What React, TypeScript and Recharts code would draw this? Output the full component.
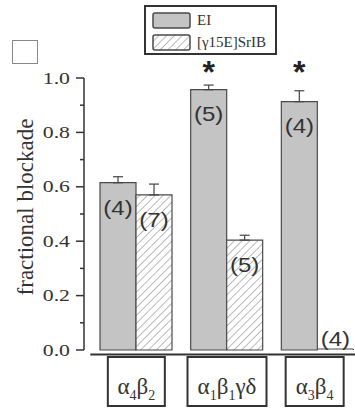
import React from "react";
import { BarChart, Bar, XAxis, YAxis, ErrorBar, LabelList, Legend } from "recharts";

const categories = ["α4β2", "α1β1γδ", "α3β4"];
const eiValues = [0.615, 0.957, 0.913];
const eiErrors = [0.022, 0.017, 0.04];
const sribValues = [0.57, 0.404, 0];
const sribErrors = [0.04, 0.018, 0];
const eiCounts = [4, 5, 4];
const sribCounts = [7, 5, 4];
const significant = [false, true, true];
const seriesNames = ["EI", "[γ15E]SrIB"];
const yTicks = [0, 0.1, 0.2, 0.3, 0.4, 0.5, 0.6, 0.7, 0.8, 0.9, 1.0];
const starLevel = 1.015;

const boxWidths = [57, 79, 58];
const boxShift = [0, 0, -3];

const data = categories.map((c, i) => ({
  name: c,
  ei: eiValues[i],
  eiErr: [0, eiErrors[i]],
  srib: sribValues[i],
  sribErr: [0, sribErrors[i]],
  eiN: `(${eiCounts[i]})`,
  sribN: `(${sribCounts[i]})`,
  sig: significant[i] ? "*" : "",
}));

const SERIF = "'Liberation Serif', 'DejaVu Serif', serif";
const SANS = "'Liberation Sans', Arial, sans-serif";
const GRAY = "#c4c4c4";
const EDGE = "#4a4a4a";

const YTick = (props: any) => {
  const { x, y, payload } = props;
  const v = payload.value as number;
  const major = Math.round(v * 10) % 2 === 0;
  return (
    <g>
      <line x1={x - (major ? 8 : 4)} x2={x} y1={y} y2={y} stroke="#333" strokeWidth={1.5} />
      {major && (
        <text
          transform={`translate(${x - 14}, ${y}) scale(1.28, 1)`}
          textAnchor="end"
          dominantBaseline="central"
          fontFamily={SERIF}
          fontSize={17}
          fill="#333"
        >
          {v.toFixed(1)}
        </text>
      )}
    </g>
  );
};

const XTick = (props: any) => {
  const { x, y, payload, index } = props;
  const label: string = payload.value;
  const w = boxWidths[index] ?? 60;
  const cx = x + (boxShift[index] ?? 0);
  const parts: React.ReactNode[] = [];
  let sub = false;
  label.split("").forEach((ch, k) => {
    const isDigit = /[0-9]/.test(ch);
    let dy = 0;
    if (isDigit && !sub) dy = 6;
    if (!isDigit && sub) dy = -6;
    sub = isDigit;
    parts.push(
      <tspan key={k} dy={dy} fontSize={isDigit ? 14 : 23}>
        {ch}
      </tspan>
    );
  });
  return (
    <g>
      {index === 0 && (
        <line x1={x - 46} x2={x + 300} y1={y + 4.5} y2={y + 4.5} stroke="#333" strokeWidth={2} />
      )}
      <rect x={cx - w / 2} y={y + 7} width={w} height={49} fill="#fff" stroke="#333" strokeWidth={2} />
      <text x={cx} y={y + 44} textAnchor="middle" fontFamily={SERIF} fill="#333">
        {parts}
      </text>
    </g>
  );
};

const countText = (cx: number, cy: number, value: string) => (
  <text
    transform={`translate(${cx}, ${cy}) scale(1.2, 1)`}
    textAnchor="middle"
    dominantBaseline="central"
    fontFamily={SANS}
    fontSize={20}
    fill="#333"
  >
    {value}
  </text>
);

const CountLabel = (props: any) => {
  const { x, y, width, height, value } = props;
  if (!(height > 0)) return null;
  const cy = height > 30 ? y + 25 : y - 10;
  return countText(x + width / 2, cy, value);
};

// draws the outline and count for a zero-height SrIB bar, positioned next to the EI bar of the same group
const ZeroSribLabel = (props: any) => {
  const { x, y, width, height, value, index } = props;
  if (sribValues[index] !== 0) return null;
  const bottom = y + height;
  const sx = x + width;
  return (
    <g>
      <line x1={sx} x2={sx + width} y1={bottom - 1} y2={bottom - 1} stroke={EDGE} strokeWidth={1.2} />
      <line x1={sx + width} x2={sx + width} y1={bottom - 1} y2={bottom} stroke={EDGE} strokeWidth={1.2} />
      {countText(sx + width / 2, bottom - 11, value)}
    </g>
  );
};

const StarLabel = (props: any) => {
  const { x, y, width, height, value, index } = props;
  if (!value) return null;
  const v = eiValues[index];
  const bottom = y + height;
  const sy = bottom - (starLevel * height) / v;
  return (
    <text x={x + width / 2} y={sy + 9} textAnchor="middle" fontFamily={SANS} fontWeight="bold" fontSize={32} fill="#222">
      {value}
    </text>
  );
};

const LegendContent = (props: any) => {
  const payload = props.payload || [];
  return (
    <div
      style={{
        position: "relative",
        width: 133,
        height: 50,
        boxSizing: "border-box",
        border: "2px solid #333",
        background: "#fff",
      }}
    >
      {payload.map((entry: any, i: number) => (
        <div key={i} style={{ position: "absolute", left: 6, top: 5 + i * 22, height: 17, display: "flex", alignItems: "center" }}>
          <svg width={40} height={17} style={{ display: "block" }}>
            <defs>
              <pattern id={`hatchLegend${i}`} width={5.5} height={5.5} patternUnits="userSpaceOnUse" patternTransform="rotate(45)">
                <rect width={5.5} height={5.5} fill="#fff" />
                <line x1={0} y1={0} x2={0} y2={5.5} stroke="#777" strokeWidth={1} />
              </pattern>
            </defs>
            <rect
              x={1}
              y={1}
              width={37}
              height={15}
              rx={2}
              fill={i === 0 ? GRAY : `url(#hatchLegend${i})`}
              stroke={EDGE}
              strokeWidth={1.5}
            />
          </svg>
          <span style={{ marginLeft: 5, fontFamily: SERIF, fontSize: 15, color: "#333", lineHeight: "17px" }}>
            {entry.value}
          </span>
        </div>
      ))}
    </div>
  );
};

const YLabel = () => (
  <text
    x={33}
    y={207}
    transform="rotate(-90, 33, 207)"
    textAnchor="middle"
    fontFamily={SERIF}
    fontSize={23}
    fill="#333"
  >
    fractional blockade
  </text>
);

export default function App() {
  return (
    <div style={{ position: "absolute", left: 0, top: 0, width: 355, height: 408, overflow: "hidden", background: "#fff" }}>
      <div
        style={{
          position: "absolute",
          left: 12,
          top: 40,
          width: 26,
          height: 24,
          boxSizing: "border-box",
          border: "1px solid #888",
        }}
      />
      <BarChart
        width={363}
        height={408}
        data={data}
        margin={{ top: 78, right: 0, left: 0, bottom: 0 }}
        barCategoryGap={9}
        barGap={0}
      >
        <defs>
          <pattern id="hatch" width={5.5} height={5.5} patternUnits="userSpaceOnUse" patternTransform="rotate(45)">
            <rect width={5.5} height={5.5} fill="#fff" />
            <line x1={0} y1={0} x2={0} y2={5.5} stroke="#777" strokeWidth={1} />
          </pattern>
        </defs>
        <XAxis
          dataKey="name"
          height={58}
          padding={{ left: 7, right: 0 }}
          axisLine={false}
          tickLine={false}
          tickSize={0}
          tickMargin={0}
          interval={0}
          tick={<XTick />}
        />
        <YAxis
          width={84}
          domain={[0, 1]}
          ticks={yTicks}
          interval={0}
          tickLine={false}
          tickSize={0}
          tickMargin={0}
          axisLine={{ stroke: "#333", strokeWidth: 1.5 }}
          tick={<YTick />}
          label={{ content: () => <YLabel /> }}
        />
        <Legend
          layout="vertical"
          align="center"
          verticalAlign="middle"
          wrapperStyle={{ top: 5, left: 144, width: 133, height: 50 }}
          content={<LegendContent />}
        />
        <Bar dataKey="ei" name={seriesNames[0]} fill={GRAY} stroke={EDGE} strokeWidth={1.2} isAnimationActive={false}>
          <ErrorBar dataKey="eiErr" direction="y" width={5} stroke="#444" strokeWidth={1.2} />
          <LabelList dataKey="eiN" content={<CountLabel />} />
          <LabelList dataKey="sig" content={<StarLabel />} />
          <LabelList dataKey="sribN" content={<ZeroSribLabel />} />
        </Bar>
        <Bar dataKey="srib" name={seriesNames[1]} fill="url(#hatch)" stroke={EDGE} strokeWidth={1.2} isAnimationActive={false}>
          <ErrorBar dataKey="sribErr" direction="y" width={5} stroke="#444" strokeWidth={1.2} />
          <LabelList dataKey="sribN" content={<CountLabel />} />
        </Bar>
      </BarChart>
    </div>
  );
}
